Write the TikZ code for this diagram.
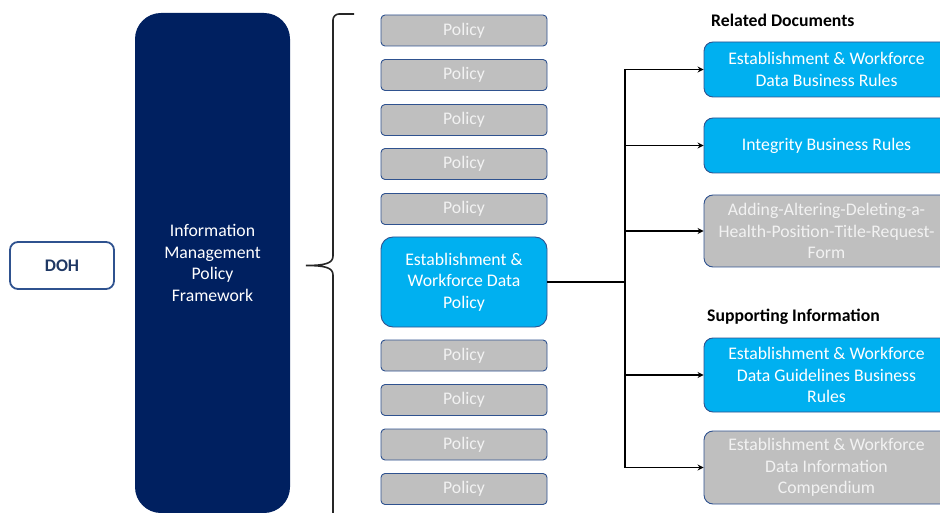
\documentclass[tikz,border=0pt]{standalone}
\usepackage{fontspec}
\setmainfont{Carlito}
\usetikzlibrary{arrows.meta}
\definecolor{navyc}{HTML}{002060}
\definecolor{bluec}{HTML}{00B0F0}
\definecolor{grayc}{HTML}{BFBFBF}
\definecolor{bordc}{HTML}{2F528F}
\definecolor{dohtext}{HTML}{1F3864}
\definecolor{ltext}{HTML}{F2F2F2}
\begin{document}
\begin{tikzpicture}[x=1pt,y=-1pt,
  font=\fontsize{17.7}{21.5}\selectfont,
  policybox/.style={draw=bordc, line width=0.9pt, fill=grayc, rounded corners=4pt,
    minimum width=166pt, minimum height=31pt, inner sep=0pt, text=ltext},
  docbox/.style={draw=bordc, line width=0.9pt, rounded corners=9pt,
    minimum width=245pt, inner sep=0pt, align=center},
  bluedoc/.style={docbox, fill=bluec, text=white},
  graydoc/.style={docbox, fill=grayc, text=ltext},
  conn/.style={line width=1.5pt, black},
  arr/.style={conn, -{Stealth[length=6pt,width=6pt]}},
  heading/.style={font=\fontsize{17.7}{20}\selectfont\bfseries, anchor=west, inner sep=0pt}
]
\useasboundingbox (0,0) rectangle (940,513);

% DOH
\node[draw=bordc, line width=1.8pt, rounded corners=8pt, minimum width=104pt, minimum height=47pt,
  inner sep=0pt, text=dohtext, font=\fontsize{17.7}{20}\selectfont\bfseries] (doh) at (62,265.5) {DOH};

% Framework
\node[fill=navyc, rounded corners=26pt, minimum width=155pt, minimum height=500pt, inner sep=0pt,
  text=white, align=center] (imp) at (212.5,263) {Information\\Management\\Policy\\Framework};

% Brace
\draw[line width=1.6pt, color=black!85] (354,14) -- (339,14) arc[start angle=90, end angle=180, radius=6pt]
  -- (333,256) .. controls (333,263) and (326,265.5) .. (306,265.5)
  .. controls (326,265.5) and (333,268) .. (333,275) -- (333,520);

% Policies
\node[policybox] (p1) at (464,30.5) {Policy};
\node[policybox] (p2) at (464,75) {Policy};
\node[policybox] (p3) at (464,120) {Policy};
\node[policybox] (p4) at (464,164) {Policy};
\node[policybox] (p5) at (464,209) {Policy};
\node[draw=bordc, line width=0.9pt, fill=bluec, rounded corners=12pt, minimum width=166pt,
  minimum height=90pt, inner sep=0pt, text=white, align=center] (ewd) at (464,282)
  {Establishment \&\\Workforce Data\\Policy};
\node[policybox] (p6) at (464,355.5) {Policy};
\node[policybox] (p7) at (464,400) {Policy};
\node[policybox] (p8) at (464,444.5) {Policy};
\node[policybox] (p9) at (464,489) {Policy};

% Headings
\node[heading] (hrel) at (711,20) {Related Documents};
\node[heading] (hsup) at (707,317) {Supporting Information};

% Right documents
\node[bluedoc, minimum height=55pt] (r1) at (826.5,69.5) {Establishment \& Workforce\\Data Business Rules};
\node[bluedoc, minimum height=55pt] (r2) at (826.5,145.5) {Integrity Business Rules};
\node[graydoc, minimum height=72pt] (r3) at (826.5,231) {Adding-Altering-Deleting-a-\\Health-Position-Title-Request-\\Form};
\node[bluedoc, minimum height=74pt] (r4) at (826.5,375) {Establishment \& Workforce\\Data Guidelines Business\\Rules};
\node[graydoc, minimum height=73pt] (r5) at (826.5,467.5) {Establishment \& Workforce\\Data Information\\Compendium};

% Connectors
\coordinate (jn) at (625,282);
\draw[conn] (ewd.east) -- (jn);
\draw[conn] (r1.west -| jn) -- (r5.west -| jn);
\draw[arr] (r1.west -| jn) -- (r1.west);
\draw[arr] (r2.west -| jn) -- (r2.west);
\draw[arr] (r3.west -| jn) -- (r3.west);
\draw[arr] (r4.west -| jn) -- (r4.west);
\draw[arr] (r5.west -| jn) -- (r5.west);
\end{tikzpicture}
\end{document}
